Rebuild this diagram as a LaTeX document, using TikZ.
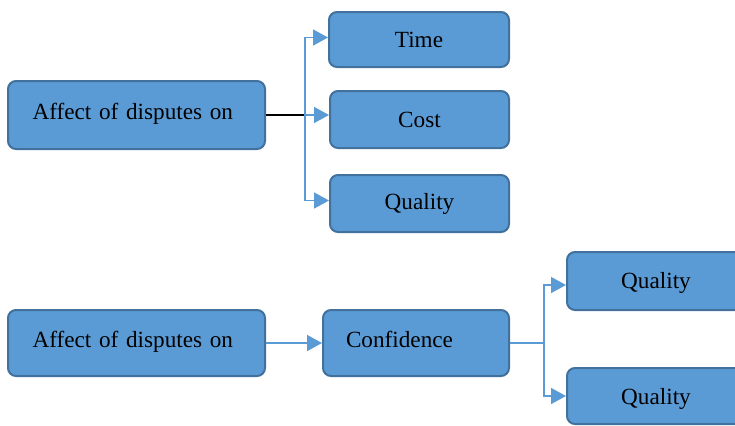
\documentclass[tikz,border=0pt]{standalone}
\usepackage{fontspec}
\setmainfont{Liberation Serif}
\usetikzlibrary{arrows.meta}
\definecolor{boxfill}{HTML}{5B9BD5}
\definecolor{boxline}{HTML}{41719C}
\definecolor{arrblue}{HTML}{5B9BD5}
\tikzset{
  box/.style={draw=boxline, fill=boxfill, line width=1pt, rounded corners=4pt,
    font=\fontsize{11.6}{14}\selectfont, inner sep=0pt, text=black},
  upbox/.style={box, text height=8.5pt, text depth=4.5pt},
  conn/.style={draw=arrblue, line width=0.8pt},
  arr/.style={conn, -{Triangle[length=7.5pt,width=8pt]}},
}
\begin{document}
\begin{tikzpicture}[x=0.5pt,y=-0.5pt]
\useasboundingbox (0,0) rectangle (735,425);
% top group
\node[upbox, minimum width=128.5pt, minimum height=34pt, text width=118pt, align=left] (a1) at (136.5,115) {\hspace*{7pt}Affect of disputes on};
\node[box, minimum width=90pt, minimum height=27.5pt] (time) at (419,39.5) {Time};
\node[box, minimum width=89.5pt, minimum height=28.5pt] (cost) at (419.5,119.5) {Cost};
\node[box, minimum width=89.5pt, minimum height=28.5pt] (qual) at (419.5,203.5) {Quality};
\coordinate (j1) at (305,115);
\draw[line width=0.8pt, black] (a1.east) -- (j1);
\draw[arr] (j1) |- ([yshift=1pt]time.west);
\draw[arr] (j1) -- (cost.west |- j1);
\draw[arr] (j1) |- ([yshift=1.5pt]qual.west);
% bottom group
\node[upbox, minimum width=128.5pt, minimum height=33pt, text width=118pt, align=left] (a2) at (136.5,343) {\hspace*{7pt}Affect of disputes on};
\node[upbox, minimum width=93pt, minimum height=33pt, text width=84pt, align=left] (conf) at (416,343) {\hspace*{7pt}Confidence};
\draw[arr] (a2.east) -- (conf.west);
\node[box, minimum width=89pt, minimum height=29pt, text depth=1pt] (q1) at (656,281) {Quality};
\node[box, minimum width=89pt, minimum height=28pt, text depth=0pt] (q2) at (656,396) {Quality};
\coordinate (j2) at ([xshift=17pt]conf.east);
\draw[conn] (conf.east) -- (j2);
\draw[arr] (j2) |- ([yshift=-2pt]q1.west);
\draw[arr] (j2) |- (q2.west);
\end{tikzpicture}
\end{document}
